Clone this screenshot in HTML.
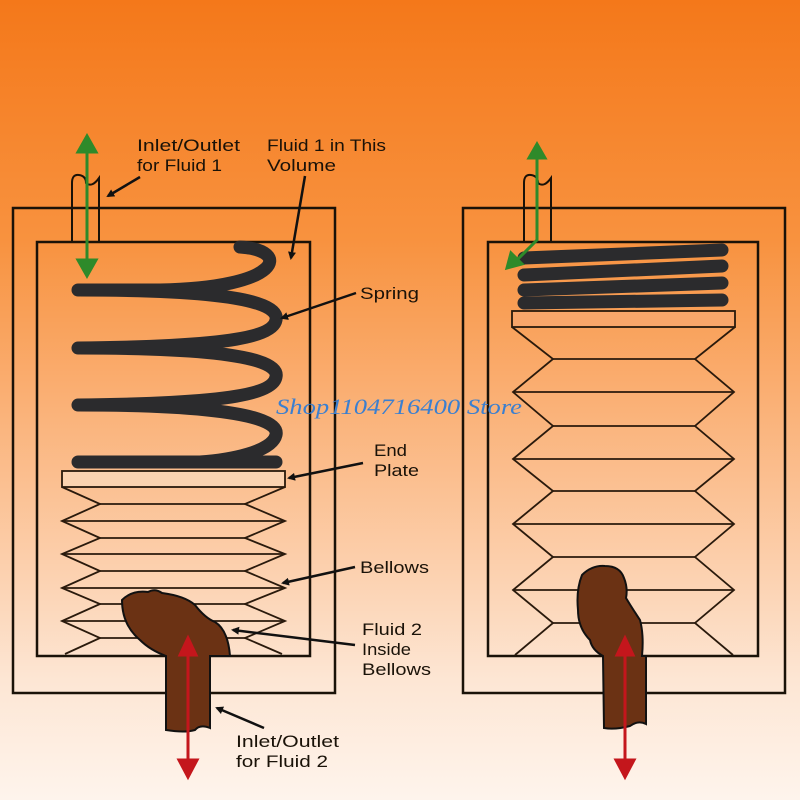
<!DOCTYPE html>
<html><head><meta charset="utf-8"><style>
html,body{margin:0;padding:0;width:800px;height:800px;overflow:hidden}
</style></head><body>
<svg width="800" height="800" viewBox="0 0 800 800" xmlns="http://www.w3.org/2000/svg">
<defs>
<linearGradient id="bg" x1="0" y1="0" x2="0" y2="1">
<stop offset="0" stop-color="#f4781a"/>
<stop offset="0.3" stop-color="#f8923f"/>
<stop offset="0.6" stop-color="#fbbf90"/>
<stop offset="0.85" stop-color="#fde6d4"/>
<stop offset="1" stop-color="#fef4ec"/>
</linearGradient>
<marker id="ab" markerWidth="8" markerHeight="8" refX="6" refY="4" orient="auto" markerUnits="userSpaceOnUse"><path d="M0,0 L8,4 L0,8 z" fill="#111"/></marker>
</defs>
<rect width="800" height="800" fill="url(#bg)"/>
<g fill="none" stroke="#1a1208" stroke-width="2.5">
<rect x="13" y="208" width="322" height="485"/>
<rect x="37" y="242" width="273" height="414"/>
<rect x="463" y="208" width="322" height="485"/>
<rect x="488" y="242" width="270" height="414"/>
</g>
<g fill="none" stroke="#1a1208" stroke-width="2">
<path d="M72,242 V183 Q72,174 79,175 Q86,176 86,183 Q92,188 99,178 V242"/>
<path d="M524,242 V183 Q524,174 531,175 Q538,176 538,183 Q544,188 551,178 V242"/>
</g>
<path d="M240,247 C292,250 282,288 160,290 L78,290 C150,290 282,292 276,320 C272,343 180,347 78,348 C150,348 282,350 276,377 C272,400 180,404 78,405 C150,405 282,408 276,435 C272,452 230,460 200,462 L78,462 L276,462" fill="none" stroke="#2b2b2d" stroke-width="13" stroke-linecap="round" stroke-linejoin="round"/>
<g stroke="#2b2b2d" stroke-width="13" stroke-linecap="round">
<line x1="524" y1="258" x2="722" y2="250"/>
<line x1="524" y1="275" x2="722" y2="266"/>
<line x1="524" y1="290" x2="722" y2="283"/>
<line x1="524" y1="303" x2="722" y2="300"/>
</g>
<g fill="none" stroke="#2a1a0c" stroke-width="1.8">
<rect x="62" y="471" width="223" height="16" fill="#fbd3b0"/>
<polyline points="62,487 100,504 62,521 100,538 62,554 100,571 62,588 100,604 62,621 100,638 65,654"/>
<polyline points="285,487 245,504 285,521 245,538 285,554 245,571 285,588 245,604 285,621 245,638 282,654"/>
<line x1="100" y1="504" x2="245" y2="504"/><line x1="62" y1="521" x2="285" y2="521"/>
<line x1="100" y1="538" x2="245" y2="538"/><line x1="62" y1="554" x2="285" y2="554"/>
<line x1="100" y1="571" x2="245" y2="571"/><line x1="62" y1="588" x2="285" y2="588"/>
<line x1="100" y1="604" x2="245" y2="604"/><line x1="62" y1="621" x2="285" y2="621"/>
<line x1="100" y1="638" x2="245" y2="638"/>
</g>
<g fill="none" stroke="#2a1a0c" stroke-width="1.8">
<rect x="512" y="311" width="223" height="16" fill="#f9a66a"/>
<polyline points="512,327 553,359 513,392 553,426 513,459 553,491 513,524 553,557 513,590 553,623 515,655"/>
<polyline points="735,327 695,359 734,392 695,426 734,459 695,491 734,524 695,557 734,590 695,623 733,655"/>
<line x1="553" y1="359" x2="695" y2="359"/><line x1="513" y1="392" x2="734" y2="392"/>
<line x1="553" y1="426" x2="695" y2="426"/><line x1="513" y1="459" x2="734" y2="459"/>
<line x1="553" y1="491" x2="695" y2="491"/><line x1="513" y1="524" x2="734" y2="524"/>
<line x1="553" y1="557" x2="695" y2="557"/><line x1="513" y1="590" x2="734" y2="590"/>
<line x1="553" y1="623" x2="695" y2="623"/>
</g>
<path d="M122,600 Q132,590 148,592 Q155,588 162,593 Q185,596 195,605 Q205,618 215,622 Q228,630 230,656 L210,656 L210,728 Q200,724 195,730 Q185,733 166,730 L166,656 Q150,650 140,640 Q122,625 122,600 z" fill="#6b3214" stroke="#111" stroke-width="2"/>
<path d="M582,575 Q592,565 605,566 Q620,566 624,578 Q628,588 626,598 Q632,608 640,620 Q644,635 642,656 L646,656 L646,724 Q638,720 630,726 Q615,730 604,728 L603,656 Q592,650 590,640 Q578,628 578,610 Q576,590 582,575 z" fill="#6b3214" stroke="#111" stroke-width="2"/>
<g stroke="#2e8a2a" stroke-width="3" fill="#2e8a2a">
<line x1="87" y1="148" x2="87" y2="264"/>
<path d="M78,152 L87,136 L96,152 z"/><path d="M78,260 L87,276 L96,260 z"/>
<polyline points="537,155 537,240 515,262" fill="none"/>
<path d="M529,158 L537,144 L545,158 z"/><path d="M507,268 L511,253 L522,264 z"/>
</g>
<g stroke="#c4161c" stroke-width="3" fill="#c4161c">
<line x1="188" y1="652" x2="188" y2="765"/>
<path d="M180,655 L188,638 L196,655 z"/><path d="M179,760 L188,777 L197,760 z"/>
<line x1="625" y1="652" x2="625" y2="765"/>
<path d="M617,655 L625,638 L633,655 z"/><path d="M616,760 L625,777 L634,760 z"/>
</g>
<g stroke="#111" stroke-width="2.5" marker-end="url(#ab)">
<line x1="140" y1="177" x2="108" y2="196"/>
<line x1="305" y1="176" x2="291" y2="258"/>
<line x1="356" y1="293" x2="282" y2="318"/>
<line x1="363" y1="463" x2="289" y2="478"/>
<line x1="355" y1="567" x2="283" y2="583"/>
<line x1="355" y1="645" x2="233" y2="630"/>
<line x1="264" y1="728" x2="217" y2="708"/>
</g>
<g font-family="Liberation Sans, sans-serif" font-size="17" fill="#1a1208" lengthAdjust="spacingAndGlyphs">
<text x="137" y="151" textLength="103" lengthAdjust="spacingAndGlyphs">Inlet/Outlet</text><text x="137" y="171" textLength="85" lengthAdjust="spacingAndGlyphs">for Fluid 1</text>
<text x="267" y="151" textLength="119" lengthAdjust="spacingAndGlyphs">Fluid 1 in This</text><text x="267" y="171" textLength="69" lengthAdjust="spacingAndGlyphs">Volume</text>
<text x="360" y="299" textLength="59" lengthAdjust="spacingAndGlyphs">Spring</text>
<text x="374" y="456" textLength="33" lengthAdjust="spacingAndGlyphs">End</text><text x="374" y="476" textLength="45" lengthAdjust="spacingAndGlyphs">Plate</text>
<text x="360" y="573" textLength="69" lengthAdjust="spacingAndGlyphs">Bellows</text>
<text x="362" y="635" textLength="60" lengthAdjust="spacingAndGlyphs">Fluid 2</text><text x="362" y="655" textLength="49" lengthAdjust="spacingAndGlyphs">Inside</text><text x="362" y="675" textLength="69" lengthAdjust="spacingAndGlyphs">Bellows</text>
<text x="236" y="747" textLength="103" lengthAdjust="spacingAndGlyphs">Inlet/Outlet</text><text x="236" y="767" textLength="92" lengthAdjust="spacingAndGlyphs">for Fluid 2</text>
</g>
<text x="276" y="414" font-family="Liberation Serif, serif" font-style="italic" font-size="22" fill="#3a7fd0" textLength="246" lengthAdjust="spacingAndGlyphs">Shop1104716400 Store</text>
</svg>
</body></html>
